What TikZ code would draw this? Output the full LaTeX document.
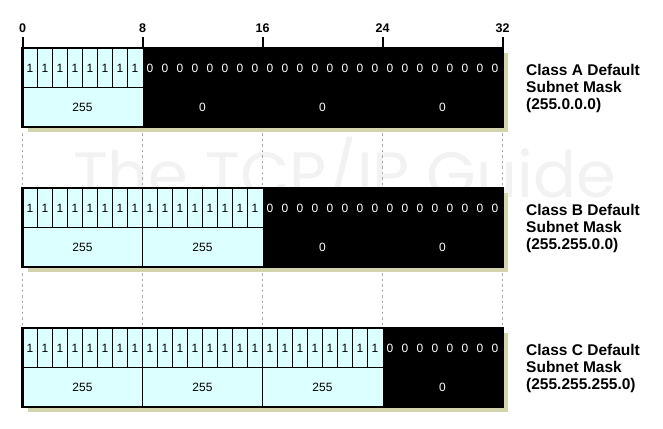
\documentclass[tikz,border=0pt]{standalone}
\usepackage{fontspec}
\setmainfont{Liberation Sans}
\newfontfamily\markfont{Poppins}
\usetikzlibrary{positioning}
\definecolor{maskcyan}{RGB}{220,255,255}
\definecolor{shadowkhaki}{RGB}{212,212,172}
\definecolor{gapgray}{RGB}{170,170,170}

\begin{document}
\begin{tikzpicture}[x=1pt,y=-1pt,
  bitdigit/.style={font=\fontsize{12}{14}\selectfont,inner sep=0pt},
  bytevalue/.style={font=\fontsize{12}{14}\selectfont,inner sep=0pt},
  rulerlbl/.style={font=\bfseries\fontsize{12.5}{14}\selectfont,inner sep=0pt,anchor=base},
  masklbl/.style={font=\bfseries\fontsize{15.5}{17}\selectfont,align=left,inner sep=0pt,anchor=west},
  cellline/.style={line width=0.8pt},
  frameline/.style={line width=2.5pt},
  gapline/.style={gapgray,line width=1.2pt,dash pattern=on 2.5pt off 3pt}]
\useasboundingbox (0,0) rectangle (663,428);

% Watermark
\node[text=black!5,font=\markfont\fontsize{64}{64}\selectfont,inner sep=0pt,anchor=base west] (mark) at (73,197) {The TCP/IP Guide};

% Bit ruler
\foreach \b in {0,8,16,24,32}{
  \draw[line width=2pt] (22.5+15*\b,37) -- (22.5+15*\b,48);
  \node[rulerlbl] (tick\b) at (22.5+15*\b,33) {\b};
}

% Masks A, B, C
\foreach \r/\n/\cls/\dec in {0/8/A/255.0.0.0,1/16/B/255.255.0.0,2/24/C/255.255.255.0}{
  \pgfmathsetmacro\top{48+140*\r}
  \pgfmathtruncatemacro\last{\n-1}
  \pgfmathtruncatemacro\nbytes{\n/8-1}
  % shadow, ones, zeros
  \fill[shadowkhaki] (27.5,\top+5) rectangle (507.5,\top+84);
  \fill[maskcyan] (22.5,\top) rectangle (22.5+15*\n,\top+79);
  \fill[black] (22.5+15*\n,\top) rectangle (502.5,\top+79);
  % bit cells
  \foreach \i in {1,...,\last}
    \draw[cellline] (22.5+15*\i,\top) -- ++(0,39);
  \draw[cellline] (22.5,\top+39) -- (22.5+15*\n,\top+39);
  \ifnum\nbytes>0
    \foreach \k in {1,...,\nbytes}
      \draw[cellline] (22.5+120*\k,\top+39) -- ++(0,40);
  \fi
  \draw[frameline] (22.5,\top) rectangle (502.5,\top+79);
  % bit values
  \foreach \i in {0,...,31}{
    \ifnum\i<\n
      \node[bitdigit] (bit\cls\i) at (30+15*\i,\top+20) {1};
    \else
      \node[bitdigit,text=white] (bit\cls\i) at (30+15*\i,\top+20) {0};
    \fi
  }
  % byte values
  \foreach \k in {0,...,3}{
    \pgfmathtruncatemacro\first{8*\k}
    \ifnum\first<\n
      \node[bytevalue] (byte\cls\k) at (82.5+120*\k,\top+59) {255};
    \else
      \node[bytevalue,text=white] (byte\cls\k) at (82.5+120*\k,\top+59) {0};
    \fi
  }
  % label
  \node[masklbl] (lbl\cls) at (526,\top+40) {Class \cls{} Default\\Subnet Mask\\(\dec)};
  % dotted guides to the next mask
  \ifnum\r<2
    \foreach \b in {0,8,16,24,32}
      \draw[gapline] (22.5+15*\b,\top+85) -- (22.5+15*\b,\top+139);
  \fi
}
\end{tikzpicture}
\end{document}
